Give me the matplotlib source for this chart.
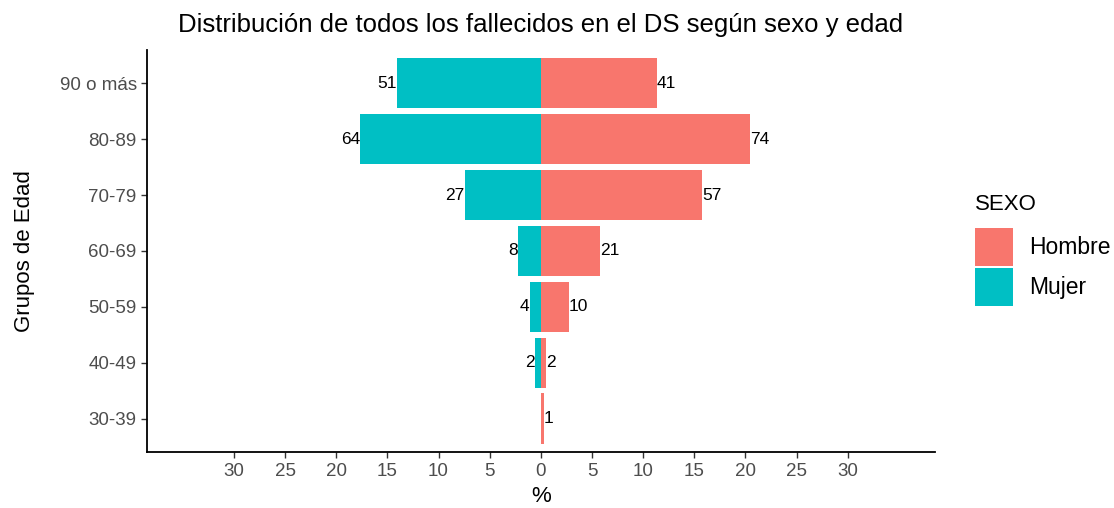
import numpy as np
import matplotlib.pyplot as plt

plt.rcParams['font.family'] = ['Liberation Sans', 'DejaVu Sans']

grupos = ['30-39', '40-49', '50-59', '60-69', '70-79', '80-89', '90 o más']
hombre = np.array([1, 2, 10, 21, 57, 74, 41])
mujer = np.array([0, 2, 4, 8, 27, 64, 51])
xticks = [-30, -25, -20, -15, -10, -5, 0, 5, 10, 15, 20, 25, 30]

total = hombre.sum() + mujer.sum()
pct_h = hombre / total * 100
pct_m = mujer / total * 100

col_h = '#F8766D'
col_m = '#00BFC4'

fig = plt.figure(figsize=(11.14, 5.08), dpi=100)
ax = fig.add_axes([0.132, 0.110, 0.707, 0.792])

y = np.arange(len(grupos))
ax.barh(y, pct_h, height=0.9, color=col_h, label='Hombre')
ax.barh(y, -pct_m, height=0.9, color=col_m, label='Mujer')

for i in range(len(grupos)):
    ax.text(pct_h[i], y[i], str(hombre[i]), ha='left', va='center', fontsize=12.5, color='black')
    if mujer[i] > 0:
        ax.text(-pct_m[i], y[i], str(mujer[i]), ha='right', va='center', fontsize=12.5, color='black')

ax.set_xlim(-38.5, 38.5)
ax.set_ylim(-0.6, len(grupos) - 0.4)
ax.set_xticks(xticks)
ax.set_xticklabels([str(abs(t)) for t in xticks])
ax.set_yticks(y)
ax.set_yticklabels(grupos)
ax.tick_params(axis='both', labelsize=13.5, labelcolor='#4D4D4D', length=4, width=1, color='#333333')

for s in ['top', 'right']:
    ax.spines[s].set_visible(False)
for s in ['left', 'bottom']:
    ax.spines[s].set_linewidth(1.3)
    ax.spines[s].set_color('black')

ax.set_xlabel('%', fontsize=16, labelpad=5)
ax.set_ylabel('Grupos de Edad', fontsize=16, labelpad=18)
ax.set_title('Distribución de todos los fallecidos en el DS según sexo y edad', fontsize=18.5, pad=13)

fig.text(975 / 1114, 1 - 205 / 508, 'SEXO', fontsize=16, ha='left', va='center')
leg = ax.legend(loc='upper left', bbox_to_anchor=(975 / 1114, 1 - 228 / 508),
                bbox_transform=fig.transFigure, frameon=False,
                fontsize=16.5, handlelength=1.65, handleheight=2.15,
                handletextpad=0.7, labelspacing=0.1, borderpad=0, borderaxespad=0)

fig.savefig('out.png', dpi=100)
